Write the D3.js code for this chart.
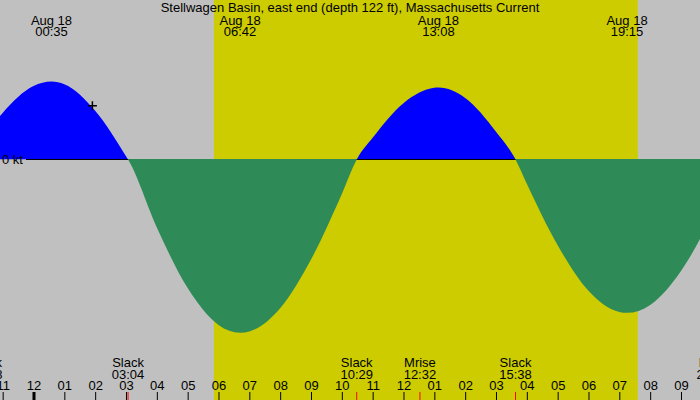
<!DOCTYPE html>
<html><head><meta charset="utf-8">
<script src="https://cdn.jsdelivr.net/npm/d3@7"></script>
<style>html,body{margin:0;padding:0;background:#c0c0c0;}svg{display:block;}</style>
</head><body>
<svg id="chart" width="700" height="400"></svg>
<script>
// ---- data ----
const title = "Stellwagen Basin, east end (depth 122 ft), Massachusetts Current";
const extremaDates = ["Aug 18", "Aug 18", "Aug 18", "Aug 18"];
const extremaTimes = ["00:35", "06:42", "13:08", "19:15"];
const eventNames = ["Slack", "Slack", "Slack", "Mrise", "Slack", "Mset"];
const eventDays  = [-1, 0, 0, 0, 0, 0];
const eventTimes = ["22:28", "03:04", "10:29", "12:32", "15:38", "22:02"];
const sunrise = "05:51";
const sunset = "19:36";
// current speed samples (hours after midnight Aug 18, knots; + flood, - ebb)
const curveHours = [-2.09, -2, -1, 0, 0.583, 1, 2, 3, 3.067, 4, 5, 6, 6.7, 7, 8, 9, 10, 10.483,
  11, 12, 13, 13.133, 14, 15, 15.633, 16, 17, 18, 19, 19.25, 20, 21, 22, 22.88];
const curveKnots = [0, 0.048, 0.538, 0.848, 0.9, 0.869, 0.562, 0.038, 0, -0.785, -1.484, -1.909, -2.0, -1.984, -1.716, -1.154, -0.398, 0,
  0.250, 0.650, 0.827, 0.83, 0.710, 0.321, 0, -0.281, -0.990, -1.515, -1.760, -1.77, -1.678, -1.286, -0.658, 0];
const markerHour = 1.91;
const markerKnots = 0.62;
const zeroLabel = "0 kt";

// ---- helpers ----
const base = new Date(2024, 7, 18, 0, 0, 0);
const atHours = hrs => new Date(base.getTime() + hrs * 3600e3);
const atClock = (s, day = 0) => { const [hh, mm] = s.split(":").map(Number); return atHours(day * 24 + hh + mm / 60); };

const W = 700, H = 400;
const pxPerHour = 30.833, midnightX = 33.5;
const x = d3.scaleTime()
  .domain([atHours(-midnightX / pxPerHour), atHours((W - midnightX) / pxPerHour)])
  .range([0, W]);
const y = d3.scaleLinear().domain([0, -2]).range([159.5, 332.8]);

const FONT = "'Liberation Sans', Arial, sans-serif";
const svg = d3.select("#chart");

svg.append("rect").attr("width", W).attr("height", H).attr("fill", "#c0c0c0");
svg.append("rect")
  .attr("x", x(atClock(sunrise))).attr("y", 0)
  .attr("width", x(atClock(sunset)) - x(atClock(sunrise))).attr("height", H)
  .attr("fill", "#cccc00");

const defs = svg.append("defs");
defs.append("clipPath").attr("id", "above").append("rect")
  .attr("x", 0).attr("y", 0).attr("width", W).attr("height", y(0));
defs.append("clipPath").attr("id", "below").append("rect")
  .attr("x", 0).attr("y", y(0) - 0.5).attr("width", W).attr("height", H);

const pts = curveHours.map((t, i) => ({ t: atHours(t), v: curveKnots[i] }));
const area = d3.area().x(d => x(d.t)).y0(y(0)).y1(d => y(d.v)).curve(d3.curveMonotoneX);

svg.append("path").datum(pts).attr("d", area).attr("fill", "#0000ff").attr("clip-path", "url(#above)");

// zero line
svg.append("line").attr("x1", 26).attr("x2", W).attr("y1", y(0)).attr("y2", y(0))
  .attr("stroke", "#000").attr("stroke-width", 1);

svg.append("path").datum(pts)
  .attr("d", d3.area().x(d => x(d.t)).y0(y(0) - 0.5).y1(d => y(d.v)).curve(d3.curveMonotoneX))
  .attr("fill", "#2e8b57").attr("clip-path", "url(#below)");

svg.append("text").attr("x", 2).attr("y", 164).text(zeroLabel)
  .attr("font-family", FONT).attr("font-size", 13).attr("fill", "#000");

// marker
svg.append("path")
  .attr("transform", `translate(${x(atHours(markerHour))},${y(markerKnots)})`)
  .attr("d", "M-4.5,0H4.5M0,-4.5V4.5").attr("stroke", "#000").attr("stroke-width", 1.5);

// title
svg.append("text").attr("x", W / 2).attr("y", 12).attr("text-anchor", "middle")
  .attr("font-family", FONT).attr("font-size", 13).attr("fill", "#000").text(title);

// extrema labels at top
const topLabels = svg.append("g").attr("font-family", FONT).attr("font-size", 13).attr("fill", "#000").attr("text-anchor", "middle");
extremaTimes.forEach((t, i) => {
  const xx = x(atClock(t));
  topLabels.append("text").attr("x", xx).attr("y", 24.5).text(extremaDates[i]);
  topLabels.append("text").attr("x", xx).attr("y", 36).text(t);
});

// event labels at bottom
const botLabels = svg.append("g").attr("font-family", FONT).attr("font-size", 13).attr("fill", "#000").attr("text-anchor", "middle");
eventTimes.forEach((t, i) => {
  const xx = x(atClock(t, eventDays[i]));
  botLabels.append("text").attr("x", xx).attr("y", 366.5).text(eventNames[i]);
  botLabels.append("text").attr("x", xx).attr("y", 378.5).text(t);
});

// hour axis
const axis = d3.axisTop(x).ticks(d3.timeHour.every(1)).tickFormat(d3.timeFormat("%I")).tickSize(8).tickPadding(1.7);
const gAxis = svg.append("g").attr("transform", `translate(0,${H})`).call(axis);
gAxis.select(".domain").remove();
gAxis.selectAll("text").attr("font-family", FONT).attr("font-size", 13).attr("fill", "#000");
gAxis.selectAll(".tick line").attr("stroke", "#000")
  .attr("stroke-width", d => d.getHours() === 0 ? 3 : 1);

// red event ticks
svg.append("g").selectAll("line").data(eventTimes.map((t, i) => atClock(t, eventDays[i])))
  .join("line")
  .attr("x1", d => x(d)).attr("x2", d => x(d)).attr("y1", 392).attr("y2", 400)
  .attr("stroke", "#ff0000").attr("stroke-width", 1);
</script>
</body></html>
